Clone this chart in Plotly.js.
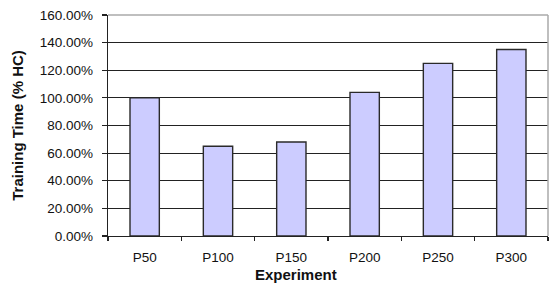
<!DOCTYPE html>
<html>
<head>
<meta charset="utf-8">
<script src="https://cdn.plot.ly/plotly-3.0.1.min.js"></script>
<style>html,body{margin:0;padding:0;background:#fff;}#chart{width:551px;height:293px;}</style>
</head>
<body>
<div id="chart"></div>
<script>
const categories = ["P50", "P100", "P150", "P200", "P250", "P300"];
const trainingTime = [1.00, 0.65, 0.68, 1.04, 1.25, 1.35];
const yTickValues = [0, 0.2, 0.4, 0.6, 0.8, 1.0, 1.2, 1.4, 1.6];
const xTitle = "Experiment";
const yTitle = "Training Time (% HC)";

const fontFamily = "Liberation Sans, Arial, sans-serif";

const trace = {
  type: "bar",
  x: categories,
  y: trainingTime,
  marker: { color: "#CCCCFF", line: { color: "#2a2a2a", width: 1.4 } },
  width: 0.4,
  hoverinfo: "skip"
};

const layout = {
  width: 551,
  height: 293,
  margin: { l: 108, r: 3, t: 15, b: 57 },
  paper_bgcolor: "#ffffff",
  plot_bgcolor: "#ffffff",
  showlegend: false,
  font: { family: fontFamily, size: 13.5, color: "#111" },
  xaxis: {
    type: "category",
    tickson: "boundaries",
    ticks: "outside",
    ticklen: 4,
    tickcolor: "#222",
    tickwidth: 1.2,
    showline: true,
    linecolor: "#222",
    linewidth: 1.2,
    showgrid: false,
    zeroline: false,
    ticklabelstandoff: 9,
    tickfont: { family: fontFamily, size: 13.5, color: "#111" },
    fixedrange: true
  },
  yaxis: {
    range: [0, 1.6],
    tickvals: yTickValues,
    tickformat: ".2%",
    ticks: "outside",
    ticklen: 5,
    tickcolor: "#222",
    tickwidth: 1.2,
    showline: true,
    linecolor: "#222",
    linewidth: 1.2,
    showgrid: true,
    gridcolor: "#222",
    gridwidth: 1.2,
    zeroline: false,
    ticklabelstandoff: 6,
    tickfont: { family: fontFamily, size: 13.5, color: "#111" },
    title: { text: "<b>" + yTitle + "</b>", font: { family: fontFamily, size: 15, color: "#111" }, standoff: 12 },
    fixedrange: true
  },
  shapes: [
    { type: "line", xref: "paper", yref: "paper", x0: 0, x1: 1, y0: 1, y1: 1, line: { color: "#aaaaaa", width: 1.5 }, layer: "above" },
    { type: "line", xref: "paper", yref: "paper", x0: 1, x1: 1, y0: 0, y1: 1, line: { color: "#aaaaaa", width: 1.5 }, layer: "above" }
  ],
  annotations: [
    { text: "<b>" + xTitle + "</b>", xref: "paper", yref: "paper", x: (296 - 108) / 440, y: -0.175, xanchor: "center", yanchor: "middle", showarrow: false, font: { family: fontFamily, size: 15, color: "#111" } }
  ]
};

Plotly.newPlot("chart", [trace], layout, { displayModeBar: false, staticPlot: true });
</script>
</body>
</html>
